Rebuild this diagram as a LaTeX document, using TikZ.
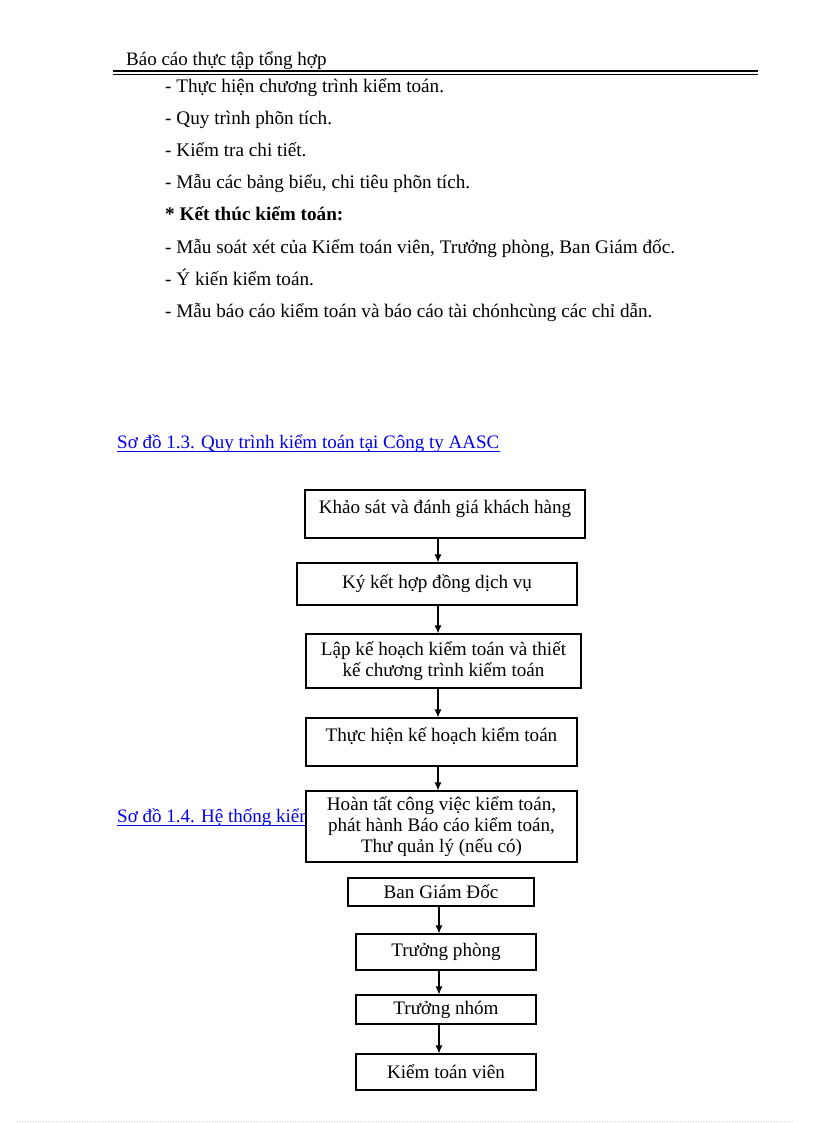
\documentclass[tikz,border=0pt]{standalone}
\usepackage{fontspec}
\setmainfont{Liberation Serif}
\usetikzlibrary{arrows.meta}
\definecolor{linkblue}{RGB}{0,0,238}
\begin{document}
\begin{tikzpicture}[x=1pt,y=-1pt,
 txt/.style={anchor=base west,inner sep=0,font=\fontsize{19.2}{22}\selectfont},
 hdr/.style={anchor=base west,inner sep=0,font=\fontsize{19}{22}\selectfont},
 lnk/.style={anchor=base west,inner sep=0,text=linkblue,font=\fontsize{19}{22}\selectfont},
 box/.style={draw,fill=white,line width=1.1pt,inner sep=0,align=center,font=\fontsize{19.1}{21}\selectfont},
 topbox/.style={box,text height=14pt,text depth=16pt},
 arr/.style={-{Latex[length=8pt,width=7pt]},line width=1.1pt}]
\useasboundingbox (0,0) rectangle (816,1123);
% header
\node[hdr] (h) at (126,66) {Báo cáo thực tập tổng hợp};
\coordinate (hl) at (113,0);
\coordinate (hr) at (758,0);
\draw[line width=2pt] (hl |- 0,71) -- (hr |- 0,71);
\draw[line width=0.9pt] (hl |- 0,74) -- (hr |- 0,74);
% body text
\node[txt] (l1) at (165,93) {- Thực hiện chương trình kiểm toán.};
\node[txt] (l2) at (165,125) {- Quy trình phõn tích.};
\node[txt] (l3) at (165,157) {- Kiểm tra chi tiết.};
\node[txt] (l4) at (165,189) {- Mẫu các bảng biểu, chi tiêu phõn tích.};
\node[txt,font=\fontsize{19.2}{22}\selectfont\bfseries] (l5) at (165,221) {* Kết thúc kiểm toán:};
\node[txt] (l6) at (165,253) {- Mẫu soát xét của Kiểm toán viên, Trưởng phòng, Ban Giám đốc.};
\node[txt] (l7) at (165,285) {- Ý kiến kiểm toán.};
\node[txt] (l8) at (165,317) {- Mẫu báo cáo kiểm toán và báo cáo tài chónhcùng các chỉ dẫn.};
% captions
\node[lnk] (c13) at (117,448) {Sơ đồ 1.3. Quy trình kiểm toán tại Công ty AASC};
\draw[linkblue,line width=0.9pt] ([yshift=-3pt]c13.base west) -- ([yshift=-3pt]c13.base east);
\node[lnk] (c14) at (117,822) {Sơ đồ 1.4. Hệ thống kiểm soát};
\draw[linkblue,line width=0.9pt] ([yshift=-3pt]c14.base west) -- ([yshift=-3pt]c14.base east);
% flow 1.3
\node[topbox,minimum width=280pt,minimum height=48pt] (b1) at (445,514) {Khảo sát và đánh giá khách hàng};
\node[box,minimum width=280pt,minimum height=42pt] (b2) at (437,584) {Ký kết hợp đồng dịch vụ};
\node[box,minimum width=275pt,minimum height=54pt] (b3) at (443.5,661) {Lập kế hoạch kiểm toán và thiết\\kế chương trình kiểm toán};
\node[topbox,minimum width=271pt,minimum height=48pt] (b4) at (441.5,742) {Thực hiện kế hoạch kiểm toán};
\node[box,minimum width=271pt,minimum height=71pt] (b5) at (441.5,826.5) {Hoàn tất công việc kiểm toán,\\phát hành Báo cáo kiểm toán,\\Thư quản lý (nếu có)};
\coordinate (ax) at (438,0);
\draw[arr] (b1.south -| ax) -- (b2.north -| ax);
\draw[arr] (b2.south -| ax) -- (b3.north -| ax);
\draw[arr] (b3.south -| ax) -- (b4.north -| ax);
\draw[arr] (b4.south -| ax) -- (b5.north -| ax);
% flow 1.4
\node[box,minimum width=186pt,minimum height=28pt] (k1) at (441,892) {Ban Giám Đốc};
\node[box,minimum width=180pt,minimum height=36pt] (k2) at (446,952) {Trưởng phòng};
\node[box,minimum width=180pt,minimum height=29pt] (k3) at (446,1009.5) {Trưởng nhóm};
\node[box,minimum width=180pt,minimum height=36pt] (k4) at (446,1072) {Kiểm toán viên};
\coordinate (bx) at (439,0);
\draw[arr] (k1.south -| bx) -- (k2.north -| bx);
\draw[arr] (k2.south -| bx) -- (k3.north -| bx);
\draw[arr] (k3.south -| bx) -- (k4.north -| bx);
% faint page edge
\coordinate (fl) at (17,1121);
\coordinate (fr) at (792,1121);
\draw[black!15,dotted,line width=0.6pt] (fl) -- (fr);
\end{tikzpicture}
\end{document}
